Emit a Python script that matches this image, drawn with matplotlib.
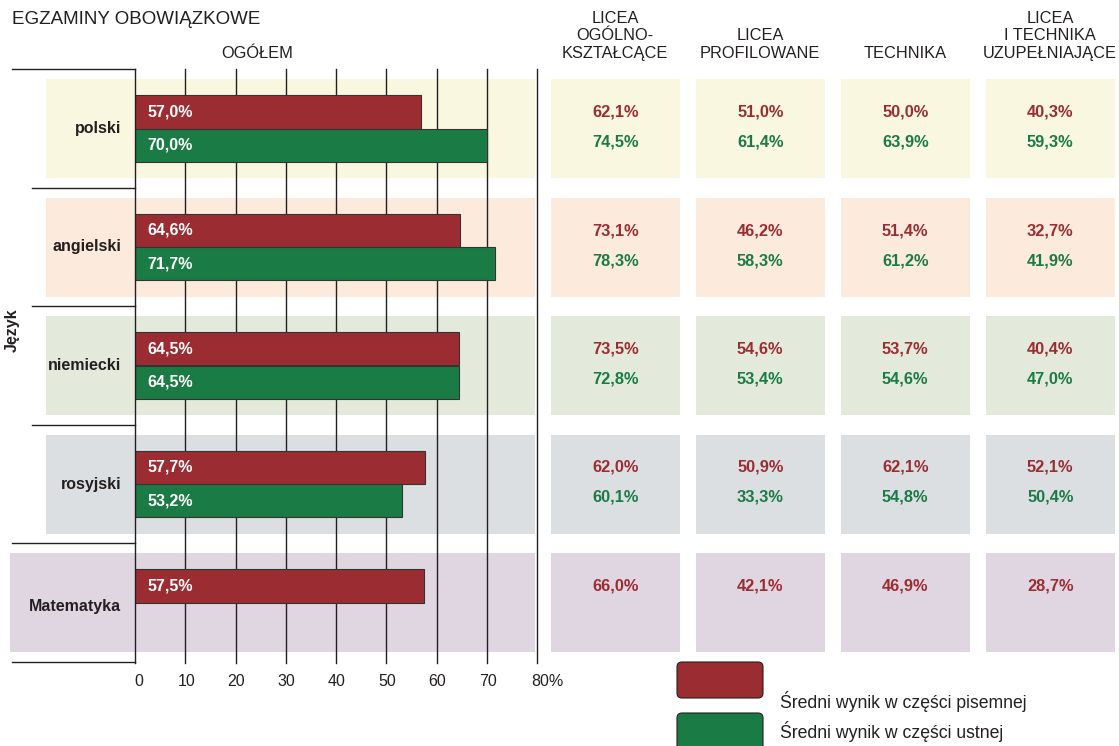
import matplotlib.pyplot as plt
from matplotlib.patches import Rectangle, FancyBboxPatch

plt.rcParams['font.family'] = ['Liberation Sans', 'DejaVu Sans']

# wyniki egzaminów (w %), None = brak części ustnej
kategorie = ['polski', 'angielski', 'niemiecki', 'rosyjski', 'Matematyka']
ogolem_pis = [57.0, 64.6, 64.5, 57.7, 57.5]
ogolem_ust = [70.0, 71.7, 64.5, 53.2, None]

szkoly = ['LICEA\nOGÓLNO-\nKSZTAŁCĄCE', 'LICEA\nPROFILOWANE', 'TECHNIKA',
          'LICEA\nI TECHNIKA\nUZUPEŁNIAJĄCE']
lo_pis = [62.1, 73.1, 73.5, 62.0, 66.0]
lo_ust = [74.5, 78.3, 72.8, 60.1, None]
lp_pis = [51.0, 46.2, 54.6, 50.9, 42.1]
lp_ust = [61.4, 58.3, 53.4, 33.3, None]
tech_pis = [50.0, 51.4, 53.7, 62.1, 46.9]
tech_ust = [63.9, 61.2, 54.6, 54.8, None]
uzup_pis = [40.3, 32.7, 40.4, 52.1, 28.7]
uzup_ust = [59.3, 41.9, 47.0, 50.4, None]

x_ticks = [0, 10, 20, 30, 40, 50, 60, 70, 80]

kolory_tla = ['#faf7e1', '#fcebdc', '#e4eadb', '#dcdfe2', '#e0d6e2']
CZERWONY = '#9b2d32'
ZIELONY = '#1b7b45'
CIEMNY = '#231f20'

W, H = 1119, 746
fig = plt.figure(figsize=(W / 100, H / 100), dpi=100)

# warstwa tła w pikselach
bg = fig.add_axes([0, 0, 1, 1])
bg.set_xlim(0, W)
bg.set_ylim(H, 0)
bg.axis('off')

ROW0, PITCH = 128.5, 118.5      # środek pierwszego wiersza, odstęp wierszy
BOX_H = 99
AX_TOP, AX_BOT = 69, 663
X0, X80 = 135, 537


def fmt(v):
    return f'{v:.1f}'.replace('.', ',') + '%'


bg.text(12, 20, 'EGZAMINY OBOWIĄZKOWE', fontsize=13.5, color=CIEMNY, va='center')
bg.text(257, 53, 'OGÓŁEM', fontsize=11.8, color=CIEMNY, ha='center', va='center')
bg.text(12, 330, 'Język', fontsize=11.5, fontweight='bold', color=CIEMNY,
        rotation=90, ha='center', va='center')

# linie grupujące po lewej
for k in range(6):
    yk = AX_TOP + PITCH * k
    x_start = 12 if k in (0, 4, 5) else 32
    bg.plot([x_start, X0], [yk, yk], color=CIEMNY, lw=1)

cols_pis = [lo_pis, lp_pis, tech_pis, uzup_pis]
cols_ust = [lo_ust, lp_ust, tech_ust, uzup_ust]
COL_X0, COL_W, COL_STEP = 551, 128.5, 145

for i, kat in enumerate(kategorie):
    yc = ROW0 + PITCH * i
    top = yc - BOX_H / 2
    left = 10 if i == 4 else 46
    bg.add_patch(Rectangle((left, top), 535 - left, BOX_H, color=kolory_tla[i], lw=0))
    bg.text(121, yc + (4 if i == 4 else 0), kat, fontsize=11.5, fontweight='bold',
            color=CIEMNY, ha='right', va='center')
    for j in range(len(szkoly)):
        cx = COL_X0 + COL_STEP * j
        bg.add_patch(Rectangle((cx, top), COL_W, BOX_H, color=kolory_tla[i], lw=0))
        bg.text(cx + COL_W / 2, yc - 16.5, fmt(cols_pis[j][i]), fontsize=11.8,
                fontweight='bold', color=CZERWONY, ha='center', va='center')
        if cols_ust[j][i] is not None:
            bg.text(cx + COL_W / 2, yc + 13.5, fmt(cols_ust[j][i]), fontsize=11.8,
                    fontweight='bold', color=ZIELONY, ha='center', va='center')

for j, nazwa in enumerate(szkoly):
    cx = COL_X0 + COL_STEP * j + COL_W / 2
    bg.text(cx, 61, nazwa, fontsize=11.8, color=CIEMNY, ha='center', va='bottom',
            linespacing=1.22, multialignment='center')

# legenda
bg.add_patch(FancyBboxPatch((677, 662), 86, 36, boxstyle='round,pad=0,rounding_size=5',
                            fc=CZERWONY, ec=CIEMNY, lw=0.8))
bg.add_patch(FancyBboxPatch((677, 713), 86, 40, boxstyle='round,pad=0,rounding_size=5',
                            fc=ZIELONY, ec=CIEMNY, lw=0.8))
bg.text(780, 701, 'Średni wynik w części pisemnej', fontsize=12.7, color=CIEMNY, va='center')
bg.text(780, 731, 'Średni wynik w części ustnej', fontsize=12.7, color=CIEMNY, va='center')

# wykres słupkowy OGÓŁEM
ax = fig.add_axes([X0 / W, 1 - AX_BOT / H, (X80 - X0) / W, (AX_BOT - AX_TOP) / H])
ax.patch.set_visible(False)
ax.set_xlim(0, 80)
ax.set_ylim((AX_BOT - ROW0) / PITCH, (AX_TOP - ROW0) / PITCH)
for s in ['top', 'right', 'bottom']:
    ax.spines[s].set_visible(False)
ax.spines['left'].set_color(CIEMNY)
ax.spines['left'].set_linewidth(1)
for v in x_ticks[1:]:
    ax.axvline(v, color=CIEMNY, lw=1, zorder=1, clip_on=False)
ax.set_yticks([])
ax.set_xticks([])

pos = list(range(len(kategorie)))
ax.barh([p - 0.14 for p in pos], ogolem_pis, height=0.28, color=CZERWONY,
        edgecolor='#333333', lw=0.8, zorder=2)
ust_pos = [p + 0.14 for p, v in zip(pos, ogolem_ust) if v is not None]
ust_val = [v for v in ogolem_ust if v is not None]
ax.barh(ust_pos, ust_val, height=0.28, color=ZIELONY, edgecolor='#333333', lw=0.8, zorder=2)

for p, v in zip(pos, ogolem_pis):
    ax.annotate(fmt(v), (0, p - 0.14), xytext=(12, 0), textcoords='offset pixels',
                color='white', fontsize=11.5, fontweight='bold', va='center', zorder=3)
for p, v in zip(ust_pos, ust_val):
    ax.annotate(fmt(v), (0, p), xytext=(12, 0), textcoords='offset pixels',
                color='white', fontsize=11.5, fontweight='bold', va='center', zorder=3)

# podpisy osi X
for v in x_ticks:
    lab = f'{v}%' if v == 80 else f'{v}'
    dx = 4 if v == 0 else (10 if v == 80 else 1)
    ax.annotate(lab, (v, 0), xycoords=ax.get_xaxis_transform(), xytext=(dx, -18),
                textcoords='offset pixels', ha='center', va='center',
                fontsize=11.5, color=CIEMNY)

fig.savefig('out.png', dpi=100)
